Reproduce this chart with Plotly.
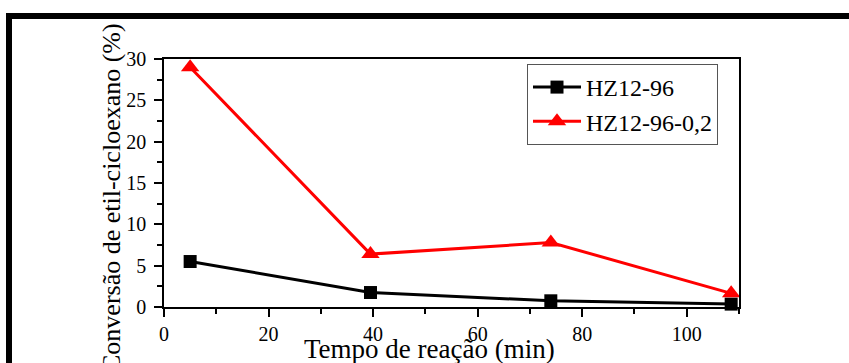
import plotly.graph_objects as go

# Reaction time (min) and ethyl-cyclohexane conversion (%) for both catalysts
tempo = [5, 39.5, 74, 108.5]
conv_hz12_96 = [5.5, 1.75, 0.75, 0.35]
conv_hz12_96_02 = [29.0, 6.4, 7.8, 1.65]

series_names = ["HZ12-96", "HZ12-96-0,2"]
x_ticks = [0, 20, 40, 60, 80, 100]
y_ticks = [0, 5, 10, 15, 20, 25, 30]

W, H = 849, 363
L, R, T, B = 164, 739, 59, 307  # plot area edges in pixels
FONT = "Liberation Serif"


def px_x(p):
    return (p - L) / (R - L)


def px_y(p):
    return (B - p) / (B - T)


fig = go.Figure()
fig.add_trace(go.Scatter(
    x=tempo, y=conv_hz12_96, name=series_names[0], mode="lines+markers",
    line=dict(color="black", width=3),
    marker=dict(symbol="square", size=13, color="black"),
    cliponaxis=False,
))
fig.add_trace(go.Scatter(
    x=tempo, y=conv_hz12_96_02, name=series_names[1], mode="lines+markers",
    line=dict(color="#ff0000", width=3),
    marker=dict(symbol="triangle-up", size=16, color="#ff0000"),
    cliponaxis=False,
))

axis_common = dict(
    showline=True, linecolor="black", linewidth=1.5, mirror=True,
    ticks="outside", ticklen=8, tickwidth=1.5, tickcolor="black",
    showgrid=False, zeroline=False,
    tickfont=dict(family=FONT, size=20, color="black"),
)

fig.update_xaxes(range=[0, 110], tickvals=x_ticks,
                 minor=dict(ticks="outside", ticklen=5, tickwidth=1.5,
                            tickcolor="black", dtick=10, tick0=0),
                 **axis_common)
fig.update_yaxes(range=[0, 30], tickvals=y_ticks, ticklabelstandoff=4,
                 minor=dict(ticks="outside", ticklen=5, tickwidth=1.5,
                            tickcolor="black", dtick=2.5, tick0=0),
                 **axis_common)

# Heavy outer frame (top and left edges)
fig.add_shape(type="rect", xref="paper", yref="paper",
              x0=px_x(6), x1=px_x(W + 10), y0=px_y(19), y1=px_y(13),
              fillcolor="black", line=dict(width=0), layer="above")
fig.add_shape(type="rect", xref="paper", yref="paper",
              x0=px_x(6), x1=px_x(12), y0=px_y(H + 10), y1=px_y(13),
              fillcolor="black", line=dict(width=0), layer="above")

fig.add_annotation(text="Tempo de reação (min)", xref="paper", yref="paper",
                   x=px_x(429), y=px_y(349), showarrow=False,
                   xanchor="center", yanchor="middle",
                   font=dict(family=FONT, size=27, color="black"))
fig.add_annotation(text="Conversão de etil-cicloexano (%)", xref="paper", yref="paper",
                   x=px_x(111), y=px_y(198), showarrow=False, textangle=-90,
                   xanchor="center", yanchor="middle",
                   font=dict(family=FONT, size=26, color="black"))

fig.update_layout(
    width=W, height=H,
    margin=dict(l=L, r=W - R, t=T, b=H - B),
    paper_bgcolor="white", plot_bgcolor="white",
    font=dict(family=FONT, size=20, color="black"),
    showlegend=True,
    legend=dict(x=px_x(718), y=px_y(64), xanchor="right", yanchor="top",
                bgcolor="white", bordercolor="#555555", borderwidth=1,
                font=dict(family=FONT, size=24, color="black"),
                itemwidth=48, tracegroupgap=0),
)

fig.write_html("out.html")
